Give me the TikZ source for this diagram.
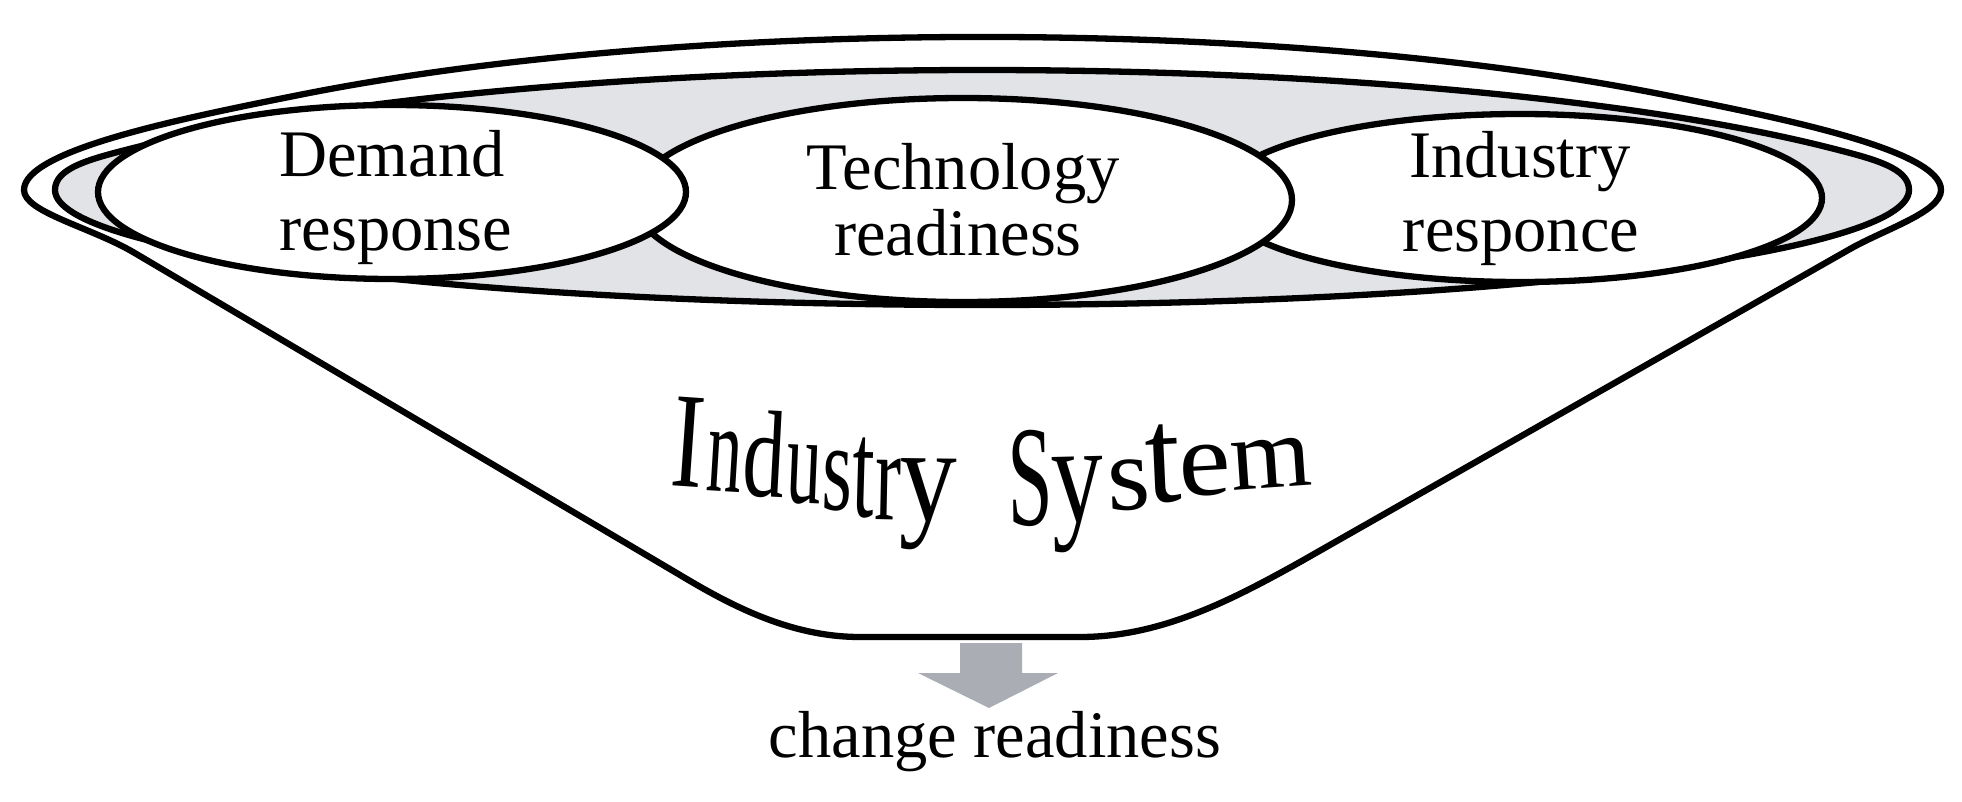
\documentclass[tikz,border=0pt]{standalone}
\usepackage{graphicx}
\usepackage{fontspec}
\setmainfont{Liberation Serif}
\newcommand\bigsysfont{\fontsize{100}{110}\selectfont}
\usetikzlibrary{shapes.geometric}
\definecolor{ringgray}{RGB}{225,227,230}
\definecolor{arrowgray}{RGB}{170,174,180}
\tikzset{
  rim/.style={line width=6.3pt, line join=round},
  bubble/.style={ellipse, draw, fill=white, line width=6.3pt, inner sep=0pt},
  lbl/.style={anchor=base, inner sep=0pt, font=\fontsize{66.5}{74}\selectfont},
}
% one letter of the warped title: name, x, baseline, width, height, angle, letter
\newcommand\sysletter[7]{\node[anchor=base, inner sep=0pt, rotate=#6] (#1) at (#2,-#3) {\resizebox{#4pt}{#5pt}{\bigsysfont #7}};}
\begin{document}
\begin{tikzpicture}[x=1pt,y=1pt]
\useasboundingbox (0,0) rectangle (1962,-802);
% outer bowl
\draw[rim, fill=white] (300,-94.8) arc[start angle=132.22, end angle=47.78, x radius=1015, y radius=223]
  .. controls (1781.7,-118.3) and (1941,-150) .. (1941,-190)
  .. controls (1941,-212) and (1884.8,-229.2) .. (1850,-249)
  -- (1300,-562)
  .. controls (1230,-601) and (1160,-637) .. (1080,-637)
  -- (860,-637)
  .. controls (790,-637) and (730,-605) .. (680,-575)
  -- (133,-252)
  .. controls (90,-227) and (24,-212) .. (24,-190)
  .. controls (24,-150) and (182.3,-118.3) .. (300,-94.8) -- cycle;
% inner rim
\draw[rim, fill=ringgray] (133,-148.1) arc[start angle=145.52, end angle=34.48, x radius=1030, y radius=180]
  .. controls (1874.6,-159.2) and (1909,-168) .. (1909,-190)
  arc[start angle=0, end angle=-180, x radius=927, y radius=115]
  .. controls (55,-168) and (89.4,-159.2) .. (133,-148.1) -- cycle;
% three ellipses
\node[bubble, minimum width=604pt, minimum height=168pt] (ind) at (1520,-198) {};
\node[bubble, minimum width=658pt, minimum height=204pt] (tech) at (963,-200) {};
\node[bubble, minimum width=588pt, minimum height=174pt] (dem) at (392,-192) {};
% labels
\node[lbl] (dem1) at (392,-177) {Demand};
\node[lbl] (dem2) at (396,-251) {response};
\node[lbl] (tech1) at (963,-190) {Technology};
\node[lbl] (tech2) at (958,-256) {readiness};
\node[lbl] (ind1) at (1520,-178) {Industry};
\node[lbl] (ind2) at (1521,-252) {responce};
% warped title "Industry System"
\sysletter{t1}{685.5}{487}{32}{89}{-4}{I}
\sysletter{t2}{723}{492}{35}{60}{-3.5}{n}
\sysletter{t3}{762}{497}{42}{86}{-3}{d}
\sysletter{t4}{803}{503}{35}{58}{-2.4}{u}
\sysletter{t5}{836.5}{510}{30}{59}{-2}{s}
\sysletter{t6}{862.5}{517}{22}{79}{-1.6}{t}
\sysletter{t7}{887.5}{520}{26}{61}{-1.2}{r}
\sysletter{t8}{927.5}{521}{57}{62}{-0.7}{y}
\sysletter{t9}{1031}{525}{45}{95}{0.7}{S}
\sysletter{t10}{1078}{522}{52}{65}{1.4}{y}
\sysletter{t11}{1129.5}{510}{43}{50}{2}{s}
\sysletter{t12}{1165}{502}{35}{77}{2.6}{t}
\sysletter{t13}{1206.5}{495}{52}{50}{3.1}{e}
\sysletter{t14}{1272.5}{488}{81}{48}{4}{m}
% arrow
\fill[arrowgray] (960,-643) -- (1022,-643) -- (1022,-673) -- (1058,-673) -- (989,-708) -- (918,-673) -- (960,-673) -- cycle;
\node[lbl] (chg) at (995,-757) {change readiness};
\end{tikzpicture}
\end{document}
